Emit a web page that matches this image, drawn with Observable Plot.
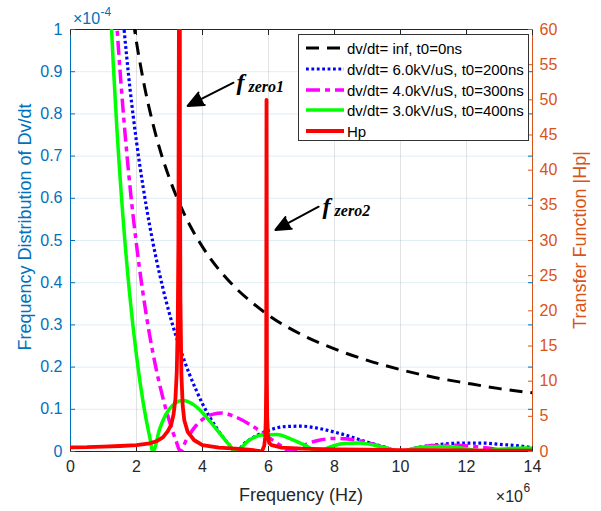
<!DOCTYPE html>
<html><head><meta charset="utf-8">
<script src="https://cdn.jsdelivr.net/npm/d3@7"></script>
<script src="https://cdn.jsdelivr.net/npm/@observablehq/plot@0.6"></script>
<style>
html,body{margin:0;padding:0;background:#fff;}
#wrap{position:relative;width:601px;height:511px;font-family:"Liberation Sans",Arial,sans-serif;overflow:hidden;}
.lab{position:absolute;white-space:nowrap;line-height:1;}
</style></head><body><div id="wrap"></div>
<script>
// ---- data (left axis values in units of 1e-4, frequency in MHz = x 1e6 Hz) ----
const freqInf = [1.9, 1.94, 2.0, 2.25, 2.5, 2.75, 3.0, 3.5, 4.0, 4.5, 5.0, 5.5, 6.0, 7.0, 8.0, 9.0, 10.0, 11.0, 12.0, 13.0, 14.0];
const valInf  = [1.02, 1.0, 0.97, 0.862, 0.776, 0.705, 0.647, 0.554, 0.485, 0.431, 0.388, 0.353, 0.323, 0.277, 0.243, 0.216, 0.194, 0.176, 0.162, 0.149, 0.139];

const freq200 = [1.55, 1.6, 1.8, 2.0, 2.2, 2.4, 2.6, 2.8, 3.0, 3.2, 3.4, 3.6, 3.8, 4.0, 4.2, 4.4, 4.6, 4.8, 5.0, 5.3, 5.6, 6.0, 6.5, 7.0, 7.5, 8.0, 8.5, 9.0, 9.5, 10.0, 10.5, 11.0, 11.5, 12.0, 12.5, 13.0, 13.5, 14.0];
const val200  = [1.063, 1.02, 0.862, 0.734, 0.627, 0.535, 0.456, 0.387, 0.326, 0.273, 0.226, 0.184, 0.147, 0.113, 0.084, 0.059, 0.036, 0.017, 0.0, 0.021, 0.036, 0.050, 0.059, 0.060, 0.055, 0.046, 0.035, 0.022, 0.011, 0.0, 0.009, 0.015, 0.019, 0.020, 0.020, 0.017, 0.014, 0.009];

const freq300 = [1.38, 1.4, 1.6, 1.8, 2.0, 2.2, 2.4, 2.6, 2.8, 3.0, 3.2, 3.333, 3.5, 3.8, 4.0, 4.3, 4.6, 5.0, 5.5, 6.0, 6.33, 6.667, 7.0, 7.5, 8.0, 8.33, 8.7, 9.0, 9.5, 10.0, 10.5, 11.0, 11.67, 12.3, 13.0, 13.333, 13.7, 14.0];
const val300  = [1.042, 1.017, 0.803, 0.630, 0.490, 0.373, 0.275, 0.194, 0.127, 0.071, 0.025, 0.0, 0.026, 0.061, 0.076, 0.088, 0.091, 0.082, 0.061, 0.034, 0.016, 0.0, 0.013, 0.026, 0.031, 0.030, 0.026, 0.021, 0.010, 0.0, 0.009, 0.014, 0.015, 0.011, 0.004, 0.0, 0.004, 0.006];

const freq400 = [1.2, 1.3, 1.4, 1.6, 1.8, 2.0, 2.2, 2.4, 2.5, 2.7, 3.0, 3.4, 3.75, 4.0, 4.4, 4.8, 5.0, 5.4, 5.8, 6.25, 6.7, 7.1, 7.5, 7.9, 8.3, 8.75, 9.2, 9.6, 10.0, 10.4, 10.8, 11.25, 11.7, 12.1, 12.5, 12.9, 13.3, 13.75, 14.0];
const val400  = [1.07, 0.912, 0.773, 0.546, 0.367, 0.227, 0.117, 0.034, 0.0, 0.053, 0.101, 0.121, 0.110, 0.092, 0.055, 0.017, 0.0, 0.026, 0.039, 0.040, 0.029, 0.015, 0.0, 0.012, 0.019, 0.020, 0.015, 0.008, 0.0, 0.007, 0.011, 0.012, 0.010, 0.005, 0.0, 0.005, 0.007, 0.008, 0.0075];

// Transfer function |Hp| (right axis, 0-60)
const freqHp = [0, 0.5, 1.0, 1.5, 2.0, 2.4, 2.6, 2.8, 2.95, 3.05, 3.12, 3.18, 3.22, 3.25, 3.27, 3.285, 3.3, 3.315, 3.33, 3.36, 3.4, 3.45, 3.55, 3.75, 4.0, 4.5, 5.0, 5.4, 5.7, 5.8, 5.87, 5.9, 5.92, 5.93, 5.94, 5.95, 5.96, 5.98, 6.02, 6.1, 6.4, 7.0, 8.0, 9.0, 10.0, 11.0, 12.0, 13.0, 14.0];
const valHp  = [0.6, 0.62, 0.7, 0.78, 0.9, 1.15, 1.45, 2.0, 2.9, 3.8, 5.2, 7.5, 11.3, 18, 30, 60, 300, 45, 22, 11, 6.5, 4.4, 2.8, 1.6, 0.9, 0.55, 0.4, 0.25, 0.1, 0.0, 0.8, 2, 5, 10, 50, 10, 5, 2.5, 1.2, 0.9, 0.55, 0.4, 0.3, 0.25, 0.2, 0.18, 0.15, 0.13, 0.12];

const seriesLabels = ["dv/dt= inf, t0=0ns", "dv/dt= 6.0kV/uS, t0=200ns", "dv/dt= 4.0kV/uS, t0=300ns", "dv/dt= 3.0kV/uS, t0=400ns", "Hp"];

const xTicks = [0, 2, 4, 6, 8, 10, 12, 14];
const yTicks = [0, 0.1, 0.2, 0.3, 0.4, 0.5, 0.6, 0.7, 0.8, 0.9, 1];
const hpTicks = [0, 5, 10, 15, 20, 25, 30, 35, 40, 45, 50, 55, 60];
const hpMax = 60;

// annotations (data coordinates)
const annSub   = ["zero1", "zero2"];
const annTextX = [5.03, 7.64];
const annTextY = [0.876, 0.582];
const annFromX = [4.94, 7.52];
const annFromY = [0.874, 0.58];
const annToX   = [3.55, 6.21];
const annToY   = [0.819, 0.525];

// ---- styling ----
const styles = [
  {stroke: "#000000", strokeWidth: 3, dash: "13,8"},
  {stroke: "#0000FF", strokeWidth: 3.2, dash: "2.8,2.6"},
  {stroke: "#FF00FF", strokeWidth: 3.5, dash: "14,5,5,5"},
  {stroke: "#00FF00", strokeWidth: 3.5, dash: null},
  {stroke: "#FF0000", strokeWidth: 3.8, dash: null}
];
const blueAx = "#0072BD", orangeAx = "#D95319", darkAx = "#262626";

const table = (fs, vs, k = 1) => fs.map((f, i) => ({f, v: vs[i] / k}));
const sets = [table(freqInf, valInf), table(freq200, val200), table(freq300, val300), table(freq400, val400), table(freqHp, valHp, hpMax)];
const ann = annSub.map((s, i) => ({s, tx: annTextX[i], ty: annTextY[i], x1: annFromX[i], y1: annFromY[i], x2: annToX[i], y2: annToY[i]}));

const lineMarks = sets.map((d, i) => Plot.line(d, {
  x: "f", y: "v", stroke: styles[i].stroke, strokeWidth: styles[i].strokeWidth,
  strokeDasharray: styles[i].dash, curve: i === 4 ? "linear" : "monotone-x",
  strokeLinejoin: "round", strokeLinecap: styles[i].dash ? "butt" : "round", clip: true
}));

const chart = Plot.plot({
  width: 601, height: 511,
  marginLeft: 70, marginRight: 69, marginTop: 29, marginBottom: 60,
  x: {domain: [0, 14]},
  y: {domain: [0, 1]},
  style: {fontFamily: "'Liberation Sans', Arial, sans-serif", fontSize: "16px", background: "transparent", overflow: "visible"},
  marks: [
    Plot.gridX({ticks: xTicks, stroke: darkAx, strokeOpacity: 0.13}),
    Plot.gridY({ticks: yTicks, stroke: blueAx, strokeOpacity: 0.13}),
    Plot.ruleY([0], {stroke: darkAx}),
    Plot.ruleY([1], {stroke: darkAx}),
    Plot.ruleX([0], {stroke: blueAx}),
    Plot.ruleX([14], {stroke: orangeAx}),
    Plot.axisX({ticks: xTicks, tickSize: -5, tickPadding: 14, color: darkAx, label: null, tickFormat: d => String(d)}),
    Plot.axisX({anchor: "top", ticks: xTicks, tickSize: -5, color: darkAx, label: null, tickFormat: () => ""}),
    Plot.axisY({ticks: yTicks, tickSize: -5, tickPadding: 13, color: blueAx, label: null, tickFormat: d => String(d)}),
    Plot.axisY({anchor: "right", ticks: yTicks, tickSize: -5, color: blueAx, label: null, tickFormat: () => ""}),
    Plot.axisY({anchor: "right", ticks: hpTicks.map(v => v / hpMax), tickSize: -5, tickPadding: 12, color: orangeAx, label: null, tickFormat: d => String(Math.round(d * hpMax))}),
    ...lineMarks,
    Plot.arrow(ann, {x1: "x1", y1: "y1", x2: "x2", y2: "y2", stroke: "black", fill: "black", strokeWidth: 2, headLength: 13, headAngle: 48, strokeLinejoin: "miter"}),
    Plot.text(ann, {x: "tx", y: "ty", text: () => "f", textAnchor: "start", fontFamily: "'Liberation Serif', 'Times New Roman', serif", fontStyle: "italic", fontWeight: "bold", fontSize: 24, fill: "black"}),
    Plot.text(ann, {x: "tx", y: "ty", text: "s", dx: 12, dy: 5, textAnchor: "start", fontFamily: "'Liberation Serif', 'Times New Roman', serif", fontStyle: "italic", fontWeight: "bold", fontSize: 16, fill: "black"})
  ]
});

const wrap = document.getElementById("wrap");
wrap.appendChild(chart);
chart.style.position = "absolute"; chart.style.left = "0px"; chart.style.top = "0px";

function label(text, left, top, opts = {}) {
  const d = document.createElement("div");
  d.className = "lab";
  d.textContent = text;
  d.style.left = left + "px"; d.style.top = top + "px";
  d.style.fontSize = (opts.size || 18) + "px";
  d.style.color = opts.color || darkAx;
  d.style.transform = opts.transform || "translate(-50%,-50%)";
  wrap.appendChild(d);
  return d;
}
label("Frequency Distribution of Dv/dt", 25, 227, {color: blueAx, transform: "translate(-50%,-50%) rotate(-90deg)"});
label("Transfer Function |Hp|", 580, 240, {color: orangeAx, transform: "translate(-50%,-50%) rotate(-90deg)"});
label("Frequency (Hz)", 301, 495, {color: darkAx});
label("\u00d710", 73, 19, {size: 16, color: blueAx, transform: "translate(0,-50%)"});
label("-4", 100.5, 12, {size: 12, color: blueAx, transform: "translate(0,-50%)"});
label("\u00d710", 523, 497, {size: 16, color: darkAx, transform: "translate(-100%,-50%)"});
label("6", 523.5, 488, {size: 12, color: darkAx, transform: "translate(0,-50%)"});

// legend
const leg = document.createElement("div");
leg.style.cssText = "position:absolute;left:298px;top:34px;width:231px;height:107px;box-sizing:border-box;border:1px solid #333;background:#fff;";
wrap.appendChild(leg);
seriesLabels.forEach((t, i) => {
  const cy = 13 + i * 20.8;
  const ns = "http://www.w3.org/2000/svg";
  const svg = document.createElementNS(ns, "svg");
  svg.setAttribute("width", 40); svg.setAttribute("height", 8);
  svg.style.cssText = `position:absolute;left:6px;top:${cy - 4}px;`;
  const ln = document.createElementNS(ns, "line");
  ln.setAttribute("x1", 1); ln.setAttribute("x2", 39); ln.setAttribute("y1", 4); ln.setAttribute("y2", 4);
  ln.setAttribute("stroke", styles[i].stroke); ln.setAttribute("stroke-width", styles[i].strokeWidth);
  if (styles[i].dash) ln.setAttribute("stroke-dasharray", styles[i].dash);
  svg.appendChild(ln); leg.appendChild(svg);
  const s = document.createElement("div");
  s.className = "lab"; s.textContent = t;
  s.style.cssText += `left:48px;top:${cy}px;transform:translate(0,-50%);font-size:15px;color:#000;`;
  leg.appendChild(s);
});
</script></body></html>
